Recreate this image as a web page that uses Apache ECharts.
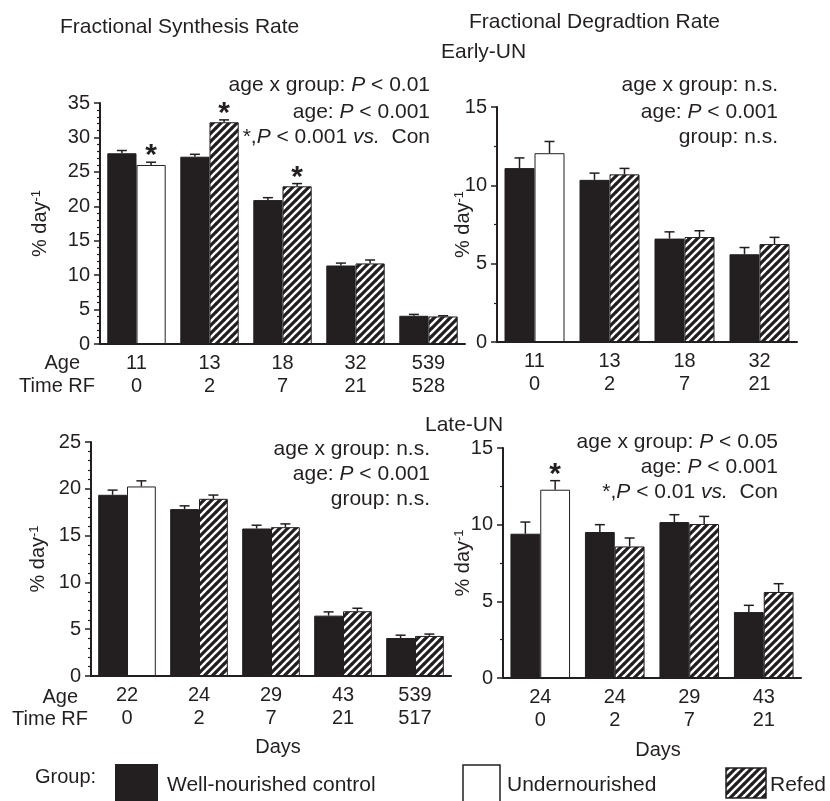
<!DOCTYPE html>
<html>
<head>
<meta charset="utf-8">
<script src="https://cdn.jsdelivr.net/npm/echarts@6/dist/echarts.min.js"></script>
<style>html,body{margin:0;background:#fff}#chart{width:830px;height:801px}</style>
</head>
<body>
<div id="chart"></div>
<script>
// synthesis, early-UN (top left)
var fsrAge = ['11', '13', '18', '32', '539'];
var fsrRF = ['0', '2', '7', '21', '528'];
var fsrCon = [27.7, 27.2, 20.9, 11.4, 4.1];
var fsrConErr = [0.4, 0.35, 0.35, 0.35, 0.2];
var fsrTrt = [26.0, 32.2, 22.9, 11.7, 4.0];
var fsrTrtErr = [0.4, 0.35, 0.4, 0.5, 0.1];
var fsrStar = [1, 1, 1, 0, 0];

// degradation, early-UN (top right)
var fdrAge = ['11', '13', '18', '32'];
var fdrRF = ['0', '2', '7', '21'];
var fdrCon = [11.1, 10.35, 6.6, 5.6];
var fdrConErr = [0.65, 0.43, 0.43, 0.43];
var fdrTrt = [12.05, 10.7, 6.7, 6.25];
var fdrTrtErr = [0.75, 0.38, 0.4, 0.43];
var fdrStar = [0, 0, 0, 0];

// synthesis, late-UN (bottom left)
var fsrLateAge = ['22', '24', '29', '43', '539'];
var fsrLateRF = ['0', '2', '7', '21', '517'];
var fsrLateCon = [19.36, 17.83, 15.76, 6.45, 4.06];
var fsrLateConErr = [0.5, 0.35, 0.35, 0.4, 0.3];
var fsrLateTrt = [20.25, 18.93, 15.9, 6.92, 4.28];
var fsrLateTrtErr = [0.6, 0.4, 0.35, 0.32, 0.2];
var fsrLateStar = [0, 0, 0, 0, 0];

// degradation, late-UN (bottom right)
var fdrLateAge = ['24', '24', '29', '43'];
var fdrLateRF = ['0', '2', '7', '21'];
var fdrLateCon = [9.41, 9.52, 10.17, 4.3];
var fdrLateConErr = [0.76, 0.48, 0.48, 0.44];
var fdrLateTrt = [12.28, 8.58, 10.04, 5.61];
var fdrLateTrtErr = [0.59, 0.55, 0.5, 0.54];
var fdrLateStar = [1, 0, 0, 0];

var ink = '#231f20';
var font = 'Liberation Sans, Arial, sans-serif';

function makeHatch() {
  var c = document.createElement('canvas');
  c.width = 8; c.height = 8;
  var g = c.getContext('2d');
  g.fillStyle = '#fff';
  g.fillRect(0, 0, 8, 8);
  g.strokeStyle = ink;
  g.lineWidth = 3.2;
  g.beginPath();
  g.moveTo(-1, 9); g.lineTo(9, -1);
  g.moveTo(-1, 1); g.lineTo(1, -1);
  g.moveTo(7, 9); g.lineTo(9, 7);
  g.stroke();
  return c;
}
var hatch = { image: makeHatch(), repeat: 'repeat' };

var panels = [
  { age: fsrAge, rf: fsrRF, con: fsrCon, conErr: fsrConErr, trt: fsrTrt, trtErr: fsrTrtErr, star: fsrStar, max: 35, minor: 5, nameGap: 50 },
  { age: fdrAge, rf: fdrRF, con: fdrCon, conErr: fdrConErr, trt: fdrTrt, trtErr: fdrTrtErr, star: fdrStar, max: 15, minor: 2, nameGap: 24 },
  { age: fsrLateAge, rf: fsrLateRF, con: fsrLateCon, conErr: fsrLateConErr, trt: fsrLateTrt, trtErr: fsrLateTrtErr, star: fsrLateStar, max: 25, minor: 5, nameGap: 43 },
  { age: fdrLateAge, rf: fdrLateRF, con: fdrLateCon, conErr: fdrLateConErr, trt: fdrLateTrt, trtErr: fdrLateTrtErr, star: fdrLateStar, max: 15, minor: 2, nameGap: 30 }
];

var grids = [
  { left: 100, top: 103, width: 365, height: 241 },
  { left: 497, top: 107, width: 300, height: 235 },
  { left: 91, top: 442, width: 360, height: 234 },
  { left: 503, top: 448, width: 298, height: 230 }
];

function renderErr(params, api) {
  var k = api.value(0), v = api.value(1), e = api.value(2), side = api.value(3), star = api.value(4);
  var band = api.size([1, 0])[0];
  var base = api.coord([k, v]);
  var top = api.coord([k, v + e]);
  var x = base[0] + side * band * 0.2;
  var kids = [
    { type: 'line', shape: { x1: x, y1: base[1], x2: x, y2: top[1] }, style: { stroke: ink, lineWidth: 1.5 } },
    { type: 'line', shape: { x1: x - 5, y1: top[1], x2: x + 5, y2: top[1] }, style: { stroke: ink, lineWidth: 1.5 } }
  ];
  if (star) {
    kids.push({ type: 'text', style: { text: '*', x: x, y: top[1] - 6, align: 'center', verticalAlign: 'middle',
      textAlign: 'center', textVerticalAlign: 'middle', font: 'bold 30px ' + font, fill: ink } });
  }
  return { type: 'group', children: kids };
}

var xAxes = [], yAxes = [], series = [];
panels.forEach(function (p, i) {
  xAxes.push({
    type: 'category', gridIndex: i,
    data: p.age.map(function (a, k) { return a + '\n' + p.rf[k]; }),
    axisLine: { lineStyle: { color: ink, width: 2 } },
    axisTick: { alignWithLabel: true, length: 4, lineStyle: { color: ink, width: 1.5 } },
    axisLabel: { color: ink, fontSize: 20, fontFamily: font, lineHeight: 23, margin: 8, interval: 0 }
  });
  yAxes.push({
    type: 'value', gridIndex: i, min: 0, max: p.max, interval: 5,
    name: '{a|% day}{b|-1}', nameLocation: 'middle', nameRotate: 90, nameGap: p.nameGap,
    nameMoveOverlap: false,
    nameTextStyle: { rich: { a: { fontSize: 20, fontFamily: font, color: ink }, b: { fontSize: 13, fontFamily: font, color: ink, verticalAlign: 'top' } } },
    axisLine: { show: true, lineStyle: { color: ink, width: 2 } },
    axisTick: { show: true, length: 6, lineStyle: { color: ink, width: 1.5 } },
    minorTick: { show: true, splitNumber: p.minor, length: 3, lineStyle: { color: ink, width: 1.2 } },
    splitLine: { show: false },
    axisLabel: { color: ink, fontSize: 20, fontFamily: font, margin: 10 }
  });
  series.push({
    type: 'bar', xAxisIndex: i, yAxisIndex: i, data: p.con,
    barGap: '0%', barCategoryGap: '20%',
    itemStyle: { color: ink, borderColor: ink, borderWidth: 1 }
  });
  series.push({
    type: 'bar', xAxisIndex: i, yAxisIndex: i,
    data: p.trt.map(function (v, k) { return k === 0 ? { value: v, itemStyle: { color: '#fff' } } : v; }),
    barGap: '0%', barCategoryGap: '20%',
    itemStyle: { color: hatch, borderColor: ink, borderWidth: 1 }
  });
  var errData = [];
  p.con.forEach(function (v, k) { errData.push([k, v, p.conErr[k], -1, 0]); });
  p.trt.forEach(function (v, k) { errData.push([k, v, p.trtErr[k], 1, p.star[k]]); });
  series.push({
    type: 'custom', xAxisIndex: i, yAxisIndex: i, data: errData, renderItem: renderErr,
    z: 10, silent: true, clip: false
  });
});

function txt(x, y, s, align, size) {
  return { type: 'text', silent: true, style: {
    text: s, x: x, y: y, align: align, verticalAlign: 'middle', textAlign: align, textVerticalAlign: 'middle',
    rich: {
      t: { fontSize: size || 21, fontFamily: font, color: ink },
      i: { fontSize: size || 21, fontFamily: font, color: ink, fontStyle: 'italic' }
    },
    font: (size || 21) + 'px ' + font, fill: ink
  } };
}

var graphics = [
  txt(60, 27, '{t|Fractional Synthesis Rate}', 'left'),
  txt(469, 22, '{t|Fractional Degradtion Rate}', 'left'),
  txt(441, 52, '{t|Early-UN}', 'left'),
  txt(425, 425, '{t|Late-UN}', 'left'),
  txt(430, 85, '{t|age x group: }{i|P}{t| < 0.01}', 'right'),
  txt(430, 112, '{t|age: }{i|P}{t| < 0.001}', 'right'),
  txt(430, 137, '{t|*,}{i|P}{t| < 0.001 }{i|vs.}{t|  Con}', 'right'),
  txt(778, 85, '{t|age x group: n.s.}', 'right'),
  txt(778, 112, '{t|age: }{i|P}{t| < 0.001}', 'right'),
  txt(778, 137, '{t|group: n.s.}', 'right'),
  txt(430, 449, '{t|age x group: n.s.}', 'right'),
  txt(430, 474, '{t|age: }{i|P}{t| < 0.001}', 'right'),
  txt(430, 499, '{t|group: n.s.}', 'right'),
  txt(778, 442, '{t|age x group: }{i|P}{t| < 0.05}', 'right'),
  txt(778, 467, '{t|age: }{i|P}{t| < 0.001}', 'right'),
  txt(778, 492, '{t|*,}{i|P}{t| < 0.01 }{i|vs.}{t|  Con}', 'right'),
  txt(80, 363, '{t|Age}', 'right', 20),
  txt(95, 386, '{t|Time RF}', 'right', 20),
  txt(78, 697, '{t|Age}', 'right', 20),
  txt(88, 719, '{t|Time RF}', 'right', 20),
  txt(278, 747, '{t|Days}', 'center', 20),
  txt(658, 750, '{t|Days}', 'center', 20),
  txt(35, 777, '{t|Group:}', 'left', 20),
  { type: 'rect', shape: { x: 115, y: 764, width: 43, height: 40 }, style: { fill: ink } },
  txt(167, 785, '{t|Well-nourished control}', 'left'),
  { type: 'rect', shape: { x: 463, y: 765, width: 37, height: 40 }, style: { fill: '#fff', stroke: ink, lineWidth: 1.5 } },
  txt(507, 785, '{t|Undernourished}', 'left'),
  { type: 'rect', shape: { x: 726, y: 768, width: 40, height: 30 }, style: { fill: hatch, stroke: ink, lineWidth: 1.5 } },
  txt(770, 785, '{t|Refed}', 'left')
];

var chart = echarts.init(document.getElementById('chart'));
chart.setOption({
  animation: false,
  backgroundColor: '#fff',
  grid: grids,
  xAxis: xAxes,
  yAxis: yAxes,
  series: series,
  graphic: graphics
});
</script>
</body>
</html>
